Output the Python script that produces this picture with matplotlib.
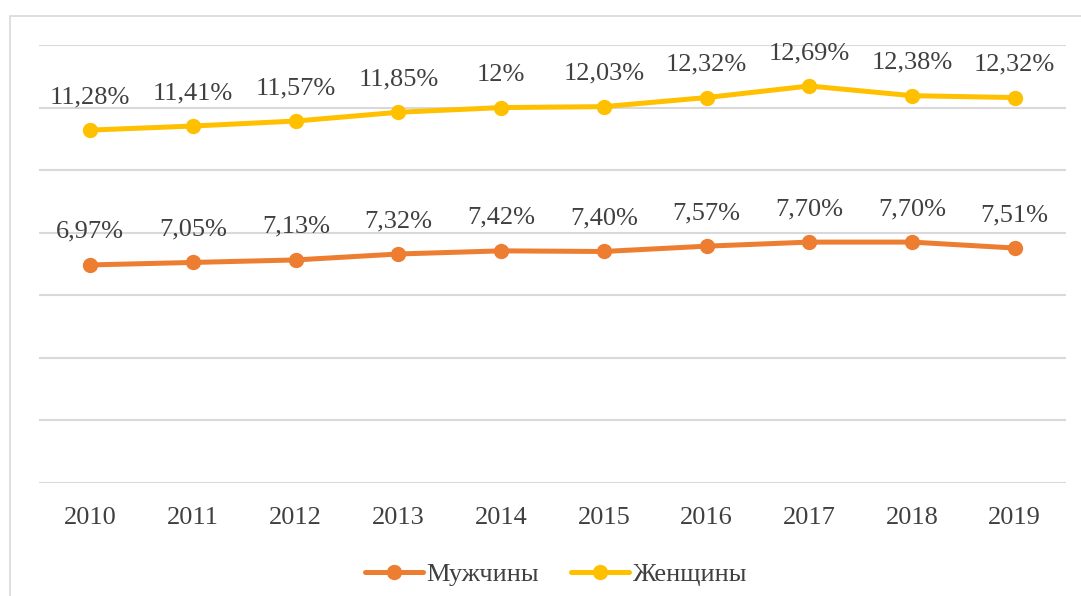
import matplotlib.pyplot as plt
from matplotlib.patches import Rectangle

years = ['2010', '2011', '2012', '2013', '2014', '2015', '2016', '2017', '2018', '2019']
men = [6.97, 7.05, 7.13, 7.32, 7.42, 7.40, 7.57, 7.70, 7.70, 7.51]
women = [11.28, 11.41, 11.57, 11.85, 12.00, 12.03, 12.32, 12.69, 12.38, 12.32]
women_labels = ['11,28%', '11,41%', '11,57%', '11,85%', '12%', '12,03%',
                '12,32%', '12,69%', '12,38%', '12,32%']

plt.rcParams['font.family'] = ['Liberation Serif', 'DejaVu Serif']
text_color = '#404040'

fig = plt.figure(figsize=(10.81, 5.96), dpi=100)
ax = fig.add_axes([39 / 1081, 113 / 596, 1027 / 1081, 438 / 596])

x = list(range(len(years)))
series = [
    ('Мужчины', men, '#ED7D31', [f'{v:.2f}%'.replace('.', ',') for v in men]),
    ('Женщины', women, '#FFC000', women_labels),
]
for name, vals, color, labels in series:
    ax.plot(x, vals, color=color, lw=3.6, marker='o', markersize=10,
            solid_capstyle='round', label=name, zorder=3)
    for xi, v, lab in zip(x, vals, labels):
        ax.annotate(lab, (xi, v), xytext=(0, 33), textcoords='offset pixels',
                    ha='center', va='center', fontsize=19, color=text_color)

ax.set_xlim(-0.5, len(years) - 0.5)
ax.set_ylim(0, 14)
ax.set_yticks(range(0, 15, 2))
ax.set_yticklabels([])
ax.set_xticks(x)
ax.set_xticklabels(years, fontsize=19, color=text_color)
ax.tick_params(axis='both', length=0)
ax.tick_params(axis='x', pad=17)
ax.grid(axis='y', color='#d9d9d9', lw=1.5)
ax.set_axisbelow(True)
for s in ax.spines.values():
    s.set_visible(False)

# outer chart frame
fig.patches.append(Rectangle((9.5 / 1081, -0.1), 2, (596 - 15.5) / 596 + 0.1,
                             transform=fig.transFigure, fill=False,
                             ec='#d9d9d9', lw=1.2))

fig.legend(loc='center', bbox_to_anchor=(556 / 1081, 1 - 574 / 596), ncol=2,
           frameon=False, fontsize=19, handlelength=2.2, handletextpad=0.15,
           columnspacing=1.2, labelcolor=text_color)

fig.savefig('out.png', dpi=100)
